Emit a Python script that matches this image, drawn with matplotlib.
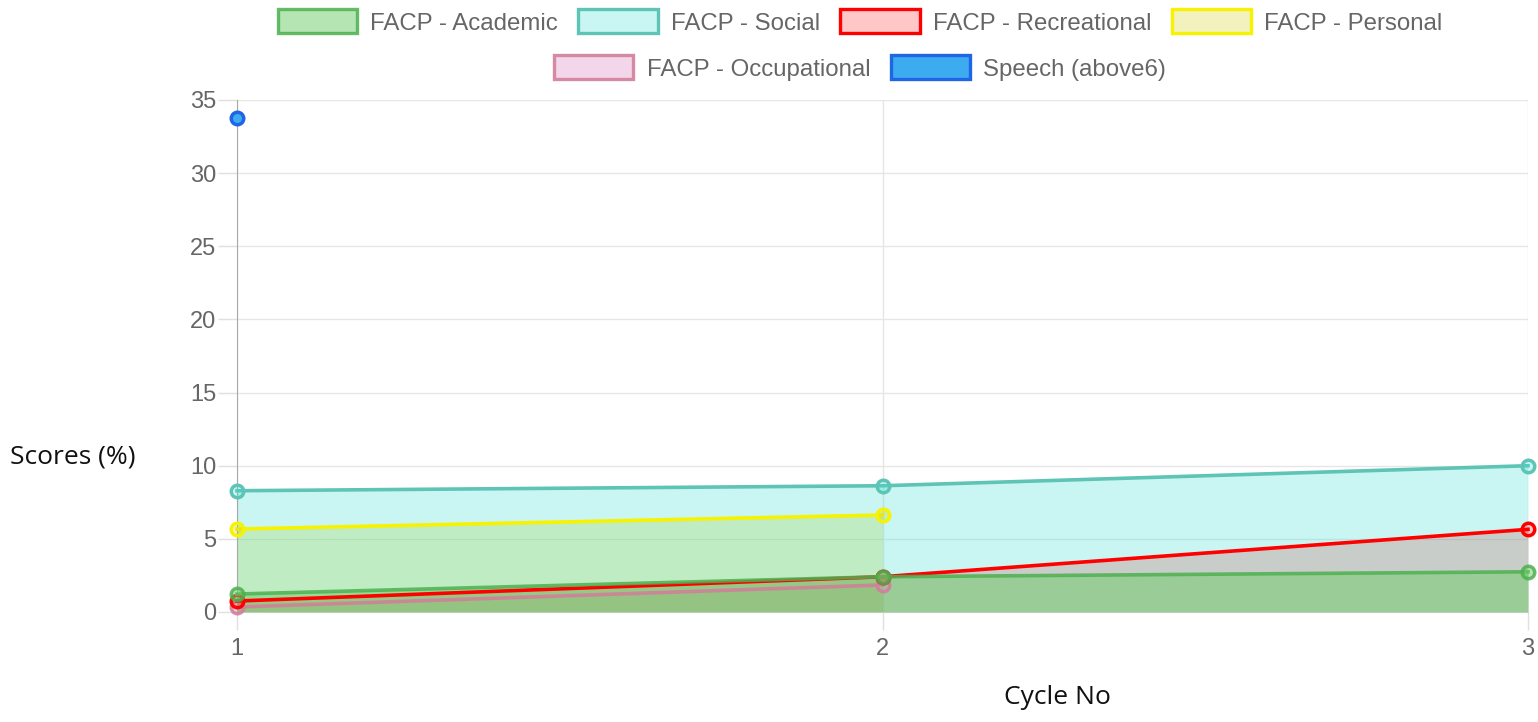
import matplotlib
matplotlib.use("Agg")
import matplotlib.pyplot as plt
import numpy as np
from matplotlib.patches import Patch

# ------------------------------------------------------------------ data
cycles = [1, 2, 3]
academic = [1.23, 2.41, 2.75]
social = [8.29, 8.63, 10.0]
recreational = [0.75, 2.41, 5.65]
personal = [5.67, 6.63, np.nan]
occupational = [0.34, 1.85, np.nan]
speech = [33.8, np.nan, np.nan]

series = [
    # label, values, bordo, riempimento
    ("FACP - Academic", academic, (0.30, 0.69, 0.31, 0.85), (0.42, 0.80, 0.40, 0.5)),
    ("FACP - Social", social, (0.37, 0.77, 0.71, 1.0), (0.25, 0.88, 0.82, 0.28)),
    ("FACP - Recreational", recreational, (1.0, 0.0, 0.0, 1.0), (1.0, 0.0, 0.0, 0.22)),
    ("FACP - Personal", personal, (0.97, 0.95, 0.0, 1.0), (0.80, 0.80, 0.0, 0.25)),
    ("FACP - Occupational", occupational, (0.82, 0.50, 0.60, 0.9), (0.88, 0.54, 0.78, 0.35)),
    ("Speech (above6)", speech, (0.12, 0.40, 0.90, 1.0), (0.24, 0.67, 0.94, 1.0)),
]

y_ticks = [0, 5, 10, 15, 20, 25, 30, 35]

TICK_FONT = "Liberation Sans"
TITLE_FONT = "Open Sans"
GREY = "#666666"

fig = plt.figure(figsize=(15.38, 7.22), dpi=100)
ax = fig.add_axes([237 / 1538, 110 / 722, 1291 / 1538, 512 / 722])

# come Chart.js: prima tutti i riempimenti, poi le linee; l'ultimo dataset sta sotto
n = len(series)
for i, (label, vals, edge, face) in enumerate(series):
    x = np.array(cycles, dtype=float)
    y = np.array(vals, dtype=float)
    ok = np.isfinite(y)
    if ok.sum() > 1:
        # il riempimento dell'occupational quasi sparisce sotto gli altri
        fa = face if i != 4 else face[:3] + (0.2,)
        ax.fill_between(x[ok], y[ok], 0, color=fa, lw=0, zorder=2 + (n - i) * 0.1)
    ax.plot(x[ok], y[ok], color=edge, lw=2.6, zorder=10 + (n - i), clip_on=False,
            marker="o", ms=9, mew=2.5, mfc=face, mec=edge)

ax.set_xlim(1, 3)
ax.set_ylim(0, 35)
ax.set_xticks(cycles)
ax.set_yticks(y_ticks)
ax.grid(True, color="#e6e6e6", lw=1)
ax.set_axisbelow(True)
for s in ("top", "right"):
    ax.spines[s].set_visible(False)
ax.spines["left"].set_color("#a8a8a8")
ax.spines["bottom"].set_color("#d4d4d4")
ax.tick_params(axis="y", length=14, width=1, color="#e0e0e0", pad=1,
               labelsize=17, labelcolor=GREY)
ax.tick_params(axis="x", length=13, width=1, color="#e0e0e0", pad=6,
               labelsize=17, labelcolor=GREY)
for t in ax.get_xticklabels() + ax.get_yticklabels():
    t.set_fontfamily(TICK_FONT)

fig.text(10 / 1538, 1 - 457 / 722, "Scores (%)", fontsize=19, family=TITLE_FONT,
         ha="left", va="center", color="#111111")
fig.text(1057 / 1538, 1 - 697 / 722, "Cycle No", fontsize=19, family=TITLE_FONT,
         ha="center", va="center", color="#111111")

handles = [Patch(facecolor=face, edgecolor=edge, lw=2.4, label=label)
           for label, _, edge, face in series]
leg_kw = dict(frameon=False, handlelength=3.3, handleheight=1.15, handletextpad=0.55,
              columnspacing=0.85, prop={"family": TICK_FONT, "size": 17.3},
              labelcolor=GREY, loc="center")
fig.legend(handles=handles[:4], ncol=4, bbox_to_anchor=(860 / 1538, 1 - 22 / 722), **leg_kw)
fig.legend(handles=handles[4:], ncol=2, bbox_to_anchor=(860 / 1538, 1 - 68 / 722), **leg_kw)

fig.savefig("out.png", dpi=100)
